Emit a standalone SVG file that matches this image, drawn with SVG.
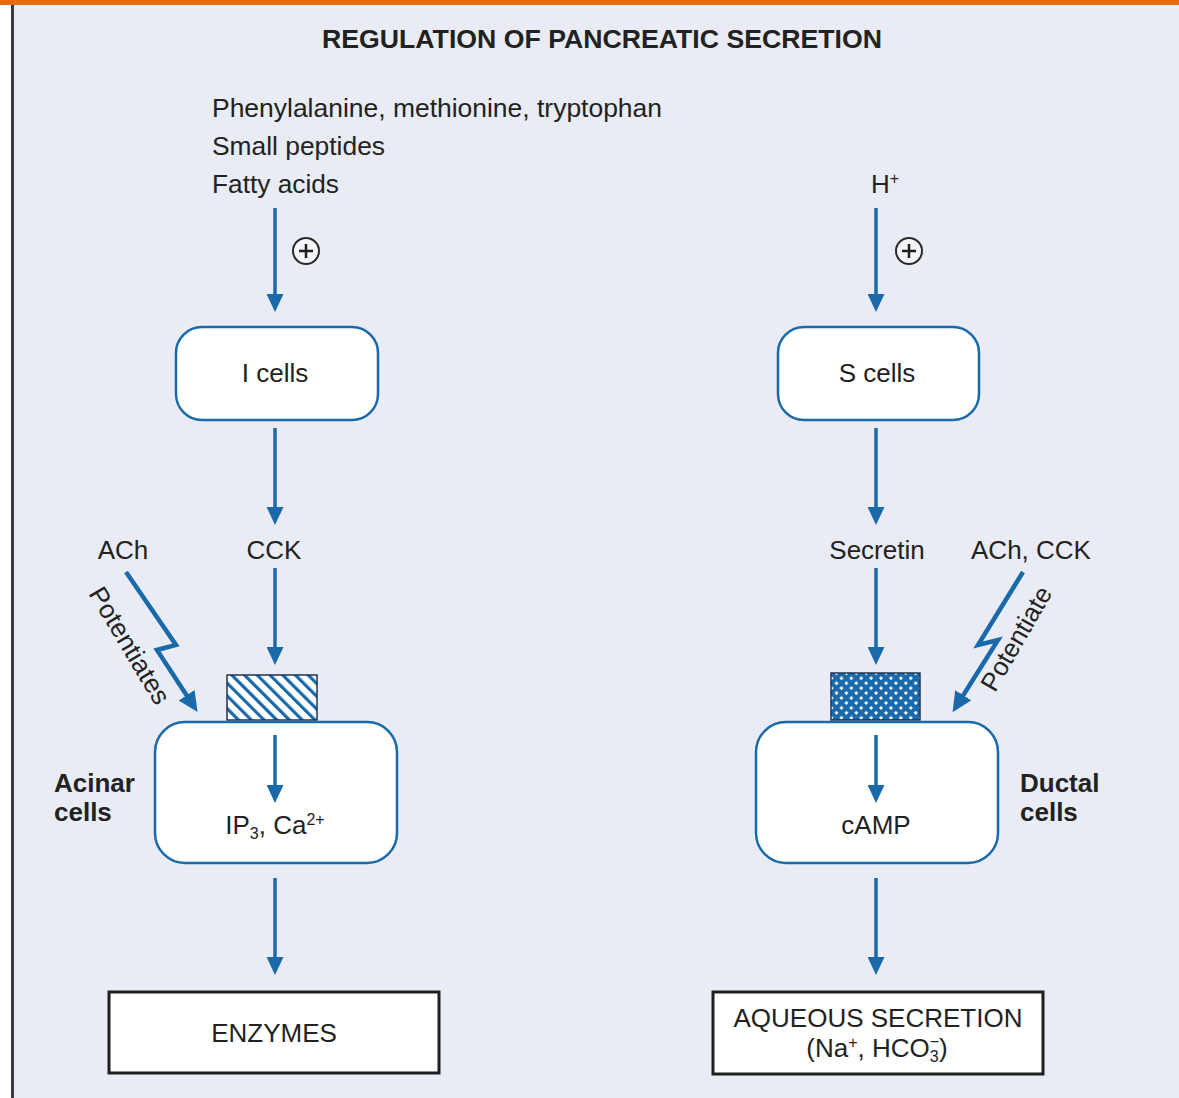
<svg xmlns="http://www.w3.org/2000/svg" width="1179" height="1098" viewBox="0 0 1179 1098">
<defs>
<style>
text{font-family:"Liberation Sans",Arial,sans-serif;fill:#222;font-size:26px}
.b{font-weight:bold}
.m{text-anchor:middle}
.con{stroke:#1a6aab;stroke-width:3.5;fill:none}
.zig{stroke:#1a6aab;stroke-width:4.5;fill:none;stroke-linejoin:miter}
.cell{fill:#fff;stroke:#1a6aab;stroke-width:2.5}
.out{fill:#fff;stroke:#1e1e1e;stroke-width:3}
.plus{fill:#f4f5f9;stroke:#2a2a2a;stroke-width:2}
</style>
<marker id="ah" viewBox="0 0 18 17" markerWidth="18" markerHeight="17" refX="8" refY="8.5" orient="auto" markerUnits="userSpaceOnUse">
<path d="M0,0 L18,8.5 L0,17 z" fill="#1a6aab"/>
</marker>
<marker id="ah2" viewBox="0 0 20 19" markerWidth="20" markerHeight="19" refX="8" refY="9.5" orient="auto" markerUnits="userSpaceOnUse">
<path d="M0,0 L20,9.5 L0,19 z" fill="#1a6aab"/>
</marker>
<pattern id="stripe" patternUnits="userSpaceOnUse" width="9" height="9" patternTransform="rotate(-45)">
<rect width="9" height="9" fill="#fff"/>
<rect x="0" y="0" width="3.2" height="9" fill="#1a6aab"/>
</pattern>
<pattern id="cross" patternUnits="userSpaceOnUse" width="7" height="7" patternTransform="rotate(45)">
<rect width="7" height="7" fill="#1a6aab"/>
<rect x="2.2" y="2.2" width="2.8" height="2.8" fill="#fff"/>
</pattern>
</defs>
<rect x="0" y="0" width="1179" height="1098" fill="#fff"/>
<rect x="13" y="0" width="1166" height="1098" fill="#e9ecf4"/>
<rect x="11" y="0" width="3" height="1098" fill="#3a3a3a"/>
<rect x="0" y="0" width="1179" height="5" fill="#e46c0a"/>

<text class="b" x="322" y="48" font-size="24" textLength="560" lengthAdjust="spacingAndGlyphs">REGULATION OF PANCREATIC SECRETION</text>

<g id="inputs-left">
<text x="212" y="117" textLength="450" lengthAdjust="spacingAndGlyphs">Phenylalanine, methionine, tryptophan</text>
<text x="212" y="155" textLength="173" lengthAdjust="spacingAndGlyphs">Small peptides</text>
<text x="212" y="193" textLength="127" lengthAdjust="spacingAndGlyphs">Fatty acids</text>
</g>
<g id="input-right"><text x="871" y="193">H<tspan font-size="16" dy="-9">+</tspan></text></g>

<g id="plus-left"><circle class="plus" cx="306" cy="251" r="13"/><path d="M299,251 H313 M306,244 V258" stroke="#1e1e1e" stroke-width="2.5"/></g>
<g id="plus-right"><circle class="plus" cx="909" cy="251" r="13"/><path d="M902,251 H916 M909,244 V258" stroke="#1e1e1e" stroke-width="2.5"/></g>

<g id="i-cells"><rect class="cell" x="176" y="327" width="202" height="93" rx="26"/><text class="m" x="275" y="382">I cells</text></g>
<g id="s-cells"><rect class="cell" x="778" y="327" width="201" height="93" rx="26"/><text class="m" x="877" y="382">S cells</text></g>

<g id="cck"><text class="m" x="274" y="559">CCK</text></g>
<g id="ach-left"><text class="m" x="123" y="559">ACh</text></g>
<g id="secretin"><text class="m" x="877" y="559">Secretin</text></g>
<g id="ach-cck"><text class="m" x="1031" y="559">ACh, CCK</text></g>

<g id="receptor-left"><rect x="227" y="675" width="90" height="45" fill="url(#stripe)" stroke="#1e3550" stroke-width="1.5"/></g>
<g id="receptor-right"><rect x="831" y="673" width="89" height="47" fill="url(#cross)" stroke="#1e3550" stroke-width="1.5"/></g>

<g id="acinar"><rect class="cell" x="155" y="722" width="242" height="141" rx="30"/><text class="m" x="275" y="834" font-size="24">IP<tspan font-size="16" dy="5">3</tspan><tspan dy="-5">, Ca</tspan><tspan font-size="16" dy="-9">2+</tspan></text></g>
<g id="ductal"><rect class="cell" x="756" y="722" width="242" height="141" rx="30"/><text class="m" x="876" y="834" font-size="25">cAMP</text></g>

<g id="acinar-label"><text class="b" x="54" y="792" font-size="25">Acinar</text><text class="b" x="54" y="821" font-size="25">cells</text></g>
<g id="ductal-label"><text class="b" x="1020" y="792" font-size="25">Ductal</text><text class="b" x="1020" y="821" font-size="25">cells</text></g>

<g id="enzymes"><rect class="out" x="109" y="992" width="330" height="81"/><text class="m" x="274" y="1042">ENZYMES</text></g>
<g id="aqueous"><rect class="out" x="713" y="992" width="330" height="82"/>
<text class="m" x="878" y="1027" font-size="25">AQUEOUS SECRETION</text>
<text class="m" x="877" y="1057" font-size="25">(Na<tspan font-size="16" dy="-9">+</tspan><tspan dy="9">, HCO</tspan><tspan font-size="16" dy="5">3</tspan><tspan font-size="16" dx="-9" dy="-15">−</tspan><tspan dy="10">)</tspan></text></g>

<g id="connectors">
<path class="con" d="M275,208 V302" marker-end="url(#ah)"/>
<path class="con" d="M275,428 V515" marker-end="url(#ah)"/>
<path class="con" d="M275,568 V655" marker-end="url(#ah)"/>
<path class="con" d="M275,735 V793" marker-end="url(#ah)"/>
<path class="con" d="M275,878 V965" marker-end="url(#ah)"/>
<path class="con" d="M876,208 V302" marker-end="url(#ah)"/>
<path class="con" d="M876,428 V515" marker-end="url(#ah)"/>
<path class="con" d="M876,568 V655" marker-end="url(#ah)"/>
<path class="con" d="M876,735 V793" marker-end="url(#ah)"/>
<path class="con" d="M876,878 V965" marker-end="url(#ah)"/>
<path class="zig" d="M126,572 L176,645 L157,650 L191,702" marker-end="url(#ah2)"/>
<path class="zig" d="M1023,572 L978,645 L998,640 L959,702" marker-end="url(#ah2)"/>
</g>
<g id="potentiates-labels">
<text class="m" font-size="22" transform="translate(122,650) rotate(59)" textLength="132" lengthAdjust="spacingAndGlyphs">Potentiates</text>
<text class="m" font-size="22" transform="translate(1024,643) rotate(-60)" textLength="116" lengthAdjust="spacingAndGlyphs">Potentiate</text>
</g>
</svg>
